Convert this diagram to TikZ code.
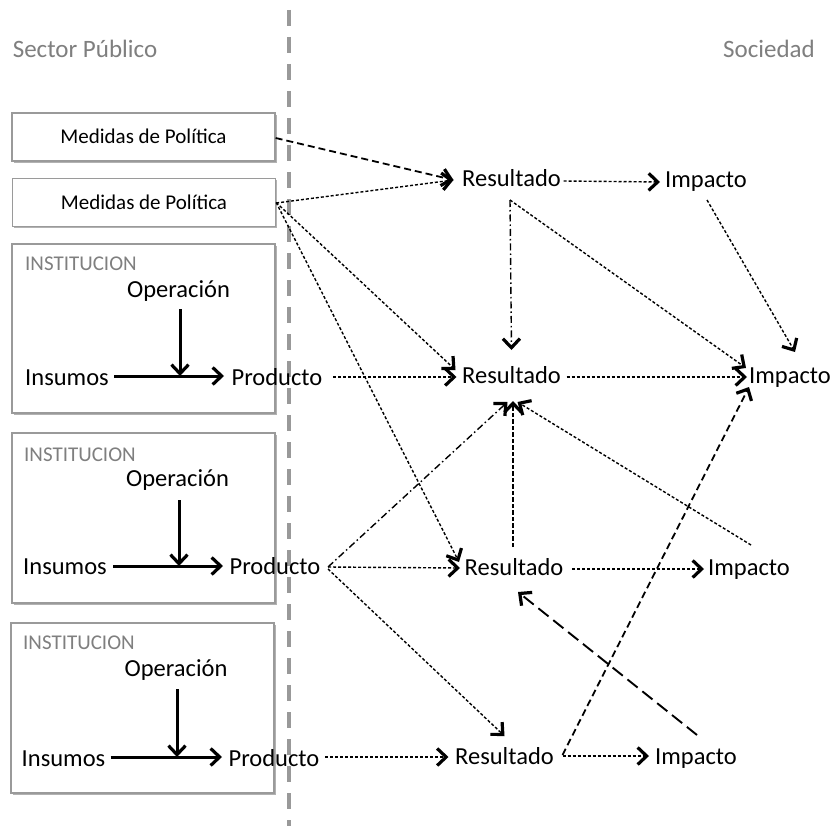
\documentclass[tikz,border=0pt]{standalone}
\usepackage{fontspec}
\setmainfont{Carlito}
\usetikzlibrary{arrows.meta,calc,shadows}

\definecolor{labelgray}{HTML}{7F7F7F}
\definecolor{framegray}{HTML}{9A9A9A}
\definecolor{dividergray}{HTML}{999999}

\tikzset{
  lbl/.style={font=\fontsize{24.5}{28}\selectfont, text height=17pt, text depth=5pt, inner sep=0pt},
  side/.style={lbl, font=\fontsize{25}{28}\selectfont, text=labelgray},
  inst/.style={font=\fontsize{21}{24}\selectfont, text=labelgray, text height=13pt, text depth=0pt, inner sep=0pt, anchor=west},
  mbox/.style={draw=framegray, line width=1.3pt, fill=white,
    drop shadow={shadow xshift=1.5pt, shadow yshift=-2pt, opacity=0.3, fill=black},
    minimum width=263pt, minimum height=48pt, inner sep=0pt,
    font=\fontsize{21}{24}\selectfont, text height=14pt, text depth=0pt},
  ibox/.style={draw=framegray, line width=1.3pt, fill=white,
    drop shadow={shadow xshift=1.5pt, shadow yshift=-2pt, opacity=0.3, fill=black}},
  tip/.style={-{Straight Barb[length=9pt,width=17pt,line width=3.2pt]}},
  solidarr/.style={tip, line width=3pt},
  fine/.style={tip, line width=1.4pt, dash pattern=on 3pt off 2pt},
  finev/.style={tip, line width=1.4pt, dash pattern=on 4.5pt off 2pt},
  dashmed/.style={tip, line width=1.8pt, dash pattern=on 7pt off 4pt},
  dashlong/.style={tip, line width=1.9pt, dash pattern=on 13pt off 6pt},
  dashdot/.style={tip, line width=1.4pt, dash pattern=on 7pt off 3pt on 1.5pt off 3pt},
}

\begin{document}
\begin{tikzpicture}[x=1pt,y=-1pt]
\useasboundingbox (0,0) rectangle (840,826);
\fill[white] (0,0) rectangle (840,826);

% boundary between the public sector and society
\draw[dividergray, line width=3.5pt, dash pattern=on 16pt off 11pt] (289,10) -- (289,826);

\node[side] (SP) at (85,52) {Sector Público};
\node[side] (SO) at (769,52) {Sociedad};

% policy measures
\node[mbox] (M1) at (143.5,137) {Medidas de Política};
\node[mbox] (M2) at (144,202.5) {Medidas de Política};

% institution boxes
\draw[ibox] (12,244) rectangle (275,413);
\draw[ibox] (12,433) rectangle (275,603);
\draw[ibox] (11,623) rectangle (274,793);
\node[inst] (T1) at (25,264) {INSTITUCION};
\node[inst] (T2) at (24,455) {INSTITUCION};
\node[inst] (T3) at (23,643) {INSTITUCION};

% institution internals
\node[lbl] (Op1) at (178.5,291) {Operación};
\node[lbl] (In1) at (67,379) {Insumos};
\node[lbl] (Pr1) at (277,379) {Producto};
\node[lbl] (Op2) at (177.5,480) {Operación};
\node[lbl] (In2) at (65,568) {Insumos};
\node[lbl] (Pr2) at (275,568) {Producto};
\node[lbl] (Op3) at (176,670) {Operación};
\node[lbl] (In3) at (63.5,760) {Insumos};
\node[lbl] (Pr3) at (274,760) {Producto};

\draw[solidarr] ($(In1)+(47,-3)$) -- ($(Pr1)+(-53,-3)$);
\draw[solidarr] ($(Op1)+(1.5,18)$) -- ($(Op1)+(1.5,85)$);
\draw[solidarr] ($(In2)+(48,-2)$) -- ($(Pr2)+(-52,-2)$);
\draw[solidarr] ($(Op2)+(1.5,20)$) -- ($(Op2)+(1.5,86)$);
\draw[solidarr] ($(In3)+(47,-3)$) -- ($(Pr3)+(-52,-3)$);
\draw[solidarr] ($(Op3)+(1,19)$) -- ($(Op3)+(1,87)$);

% outcomes and impacts
\node[lbl] (R1) at (511.5,181) {Resultado};
\node[lbl] (I1) at (706,182) {Impacto};
\node[lbl] (R2) at (511.5,377) {Resultado};
\node[lbl] (I2) at (790,377) {Impacto};
\node[lbl] (R3) at (514,569) {Resultado};
\node[lbl] (I3) at (749,569) {Impacto};
\node[lbl] (R4) at (504.5,758) {Resultado};
\node[lbl] (I4) at (696,758) {Impacto};

% links
\draw[dashmed] ($(M1.east)+(0,1)$) -- ($(R1)+(-58,-1)$);
\draw[fine] ($(M2.east)+(0,0.5)$) -- ($(R1)+(-58,-1)$);
\draw[fine] (M2.east) -- ($(R2)+(-56,-7)$);
\draw[fine] (M2.east) -- ($(R3)+(-55,-7)$);
\draw[fine] ($(Pr1)+(56,-2)$) -- ($(R2)+(-55,0)$);
\draw[fine] ($(R1)+(52,0)$) -- ($(I1)+(-46,0)$);
\draw[dashdot] ($(R1)+(-1.5,19)$) -- ($(R2)+(0,-27)$);
\draw[fine] ($(R1)+(-1.5,19)$) -- ($(I2)+(-44,-9)$);
\draw[fine] ($(I1)+(1,18)$) -- ($(I2)+(5,-25)$);
\draw[fine] ($(R2)+(55,0)$) -- ($(I2)+(-43,0)$);
\draw[dashdot] ($(Pr2)+(53,-1)$) -- ($(R2)+(-4,25)$);
\draw[finev] ($(R3)+(-1,-22)$) -- ($(R2)+(1.5,24)$);
\draw[fine] ($(I3)+(2,-24)$) -- ($(R2)+(6,25)$);
\draw[fine] ($(Pr2)+(53,-1)$) -- ($(R3)+(-54,-1)$);
\draw[fine] ($(Pr2)+(53,1)$) -- ($(R4)+(0,-22)$);
\draw[fine] ($(R3)+(58,0)$) -- ($(I3)+(-45,0)$);
\draw[dashlong] ($(I4)+(1,-23)$) -- ($(R3)+(4,23)$);
\draw[dashmed] ($(R4)+(58,-3)$) -- ($(I2)+(-41,10)$);
\draw[fine] ($(R4)+(58,-2)$) -- ($(I4)+(-47,-2)$);
\draw[fine] ($(Pr3)+(51,-3)$) -- ($(R4)+(-56,-1)$);
\end{tikzpicture}
\end{document}
